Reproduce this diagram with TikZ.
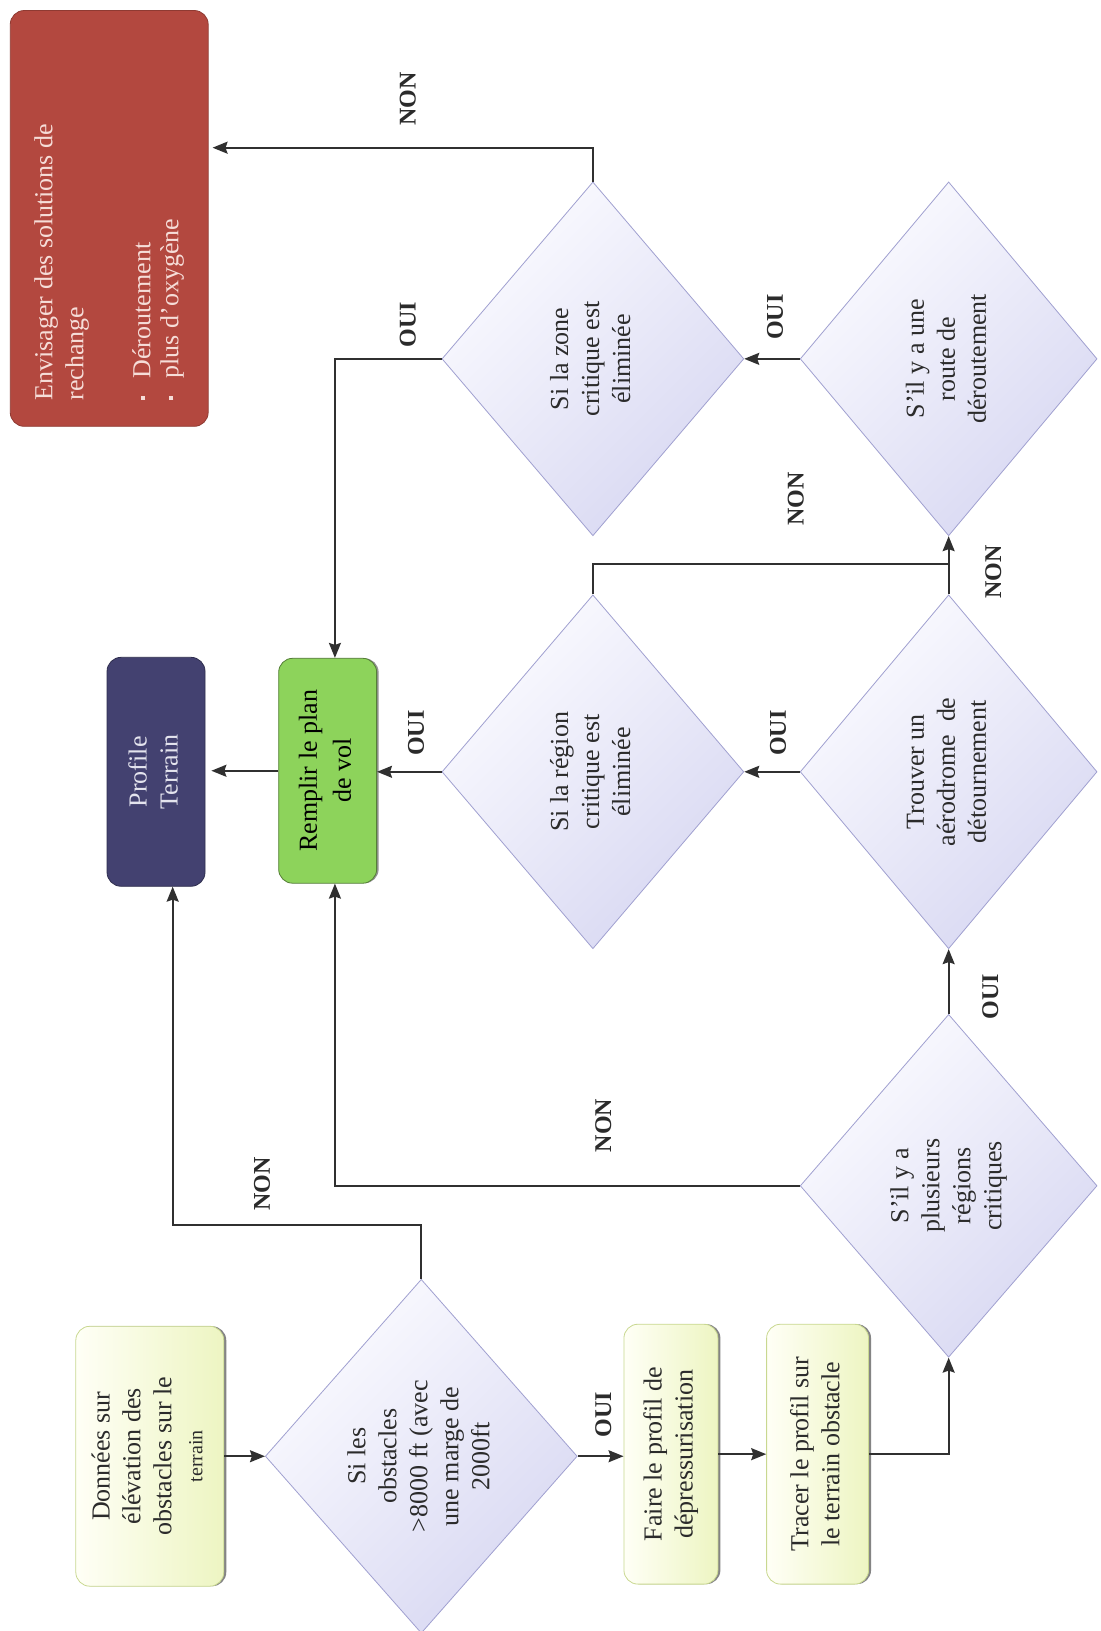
\documentclass[tikz,border=0pt]{standalone}
\usepackage{fontspec}
\setmainfont{Liberation Serif}
\usepackage{graphicx}
\usetikzlibrary{shapes.geometric,arrows.meta,shadows}

\definecolor{lineC}{HTML}{303030}
\definecolor{labC}{HTML}{2B2B2B}
\definecolor{diaEdge}{HTML}{A0A0D0}
\definecolor{diaLight}{HTML}{FBFBFF}
\definecolor{diaDark}{HTML}{D8D8F2}
\definecolor{altFill}{HTML}{B3483F}
\definecolor{altText}{HTML}{F6DDD8}
\definecolor{termFill}{HTML}{434170}
\definecolor{termText}{HTML}{E4E4EE}
\definecolor{planFill}{HTML}{8DD35B}
\definecolor{stepEdge}{HTML}{C9D890}
\definecolor{stepLight}{HTML}{FFFFF6}
\definecolor{stepDark}{HTML}{EDF5C2}

% multi-line text turned to read from bottom to top
\newcommand{\vlines}[1]{\rotatebox{90}{\begin{tabular}{@{}c@{}}#1\end{tabular}}}
\newcommand{\sqbul}{\makebox[22pt][l]{\rule[5pt]{4.5pt}{4.5pt}}}

\begin{document}
\begin{tikzpicture}[x=1.0406pt, y=1.0406pt,
  txt/.style={font=\fontsize{26}{31}\selectfont},
  decision/.style={diamond, txt, draw=diaEdge, line width=0.8pt,
    top color=diaLight, bottom color=diaDark, shading angle=45,
    inner sep=0pt, text=labC, minimum width=302pt, minimum height=354pt},
  box/.style={rectangle, rounded corners=14pt, txt, inner sep=0pt},
  stepbox/.style={box, draw=stepEdge, line width=0.8pt,
    left color=stepLight, right color=stepDark, text=labC,
    drop shadow={shadow xshift=2.5pt, shadow yshift=0pt, fill=black!60, opacity=0.8}},
  conn/.style={draw=lineC, line width=1.8pt},
  arr/.style={conn, -{Stealth[length=15pt,width=12pt,inset=2pt]}},
  lab/.style={font=\fontsize{24}{28}\selectfont\bfseries, rotate=90, text=labC, inner sep=0pt}
]
\fill[white] (0,0) rectangle (1058,1568);
\useasboundingbox (0,0) rectangle (1058,1568);

% outcome boxes
\node[box, fill=altFill, draw=altFill!80!black, line width=0.8pt,
      minimum width=198pt, minimum height=416pt] (alt) at (105,1358)
  {\rotatebox{90}{\parbox{364pt}{\color{altText}\raggedright
    Envisager des solutions de\\ rechange\\[36pt]
    \sqbul D\'eroutement\\[-3pt]
    \sqbul plus d'oxyg\`ene}}};
\node[box, fill=termFill, draw=termFill!70!black, line width=0.8pt, text=termText,
      minimum width=98pt, minimum height=229pt] (prof) at (150,826)
  {\vlines{Profile\\Terrain}};
\node[box, fill=planFill, draw=planFill!60!black, line width=0.8pt, text=black,
      drop shadow={shadow xshift=2pt, shadow yshift=0pt, fill=black!60, opacity=0.7},
      minimum width=98pt, minimum height=225pt] (rempl) at (315,827)
  {\vlines{Remplir le plan\\[3pt]de vol}};

% process boxes
\node[stepbox, minimum width=148pt, minimum height=260pt] (donn) at (144,168)
  {\vlines{Donn\'ees sur\\\'el\'evation des\\obstacles sur le\\{\fontsize{20}{24}\selectfont terrain}}};
\node[stepbox, minimum width=94pt, minimum height=260pt] (faire) at (645,170)
  {\vlines{Faire le profil de\\d\'epressurisation}};
\node[stepbox, minimum width=102pt, minimum height=260pt] (tracer) at (786,170)
  {\vlines{Tracer le profil sur\\le terrain obstacle}};

% decisions
\node[decision] (d1) at (570,1223) {\vlines{Si la zone\\critique est\\\'elimin\'ee}};
\node[decision, minimum width=297pt] (d2) at (912,1223) {\vlines{S'il y a une\\route de\\d\'eroutement}};
\node[decision] (d3) at (570,826) {\vlines{Si la r\'egion\\critique est\\\'elimin\'ee}};
\node[decision, minimum width=297pt] (d4) at (912,826) {\vlines{Trouver un\\a\'erodrome\ \ de\\d\'etournement}};
\node[decision, minimum width=297pt, minimum height=343pt] (d5) at (912,428) {\vlines{S'il y a\\plusieurs\\r\'egions\\critiques}};
\node[decision, minimum width=312pt] (d6) at (405,168) {\vlines{Si les\\obstacles\\>8000 ft (avec\\une marge de\\2000ft}};

% bend points
\coordinate (nonA) at (572,1426);
\coordinate (ouiA) at (322,1223);
\coordinate (nonB) at (912,1026);
\coordinate (nonC) at (166,390);

% connectors
\draw[arr, shorten >=4pt] (d1.north) |- (alt.east |- nonA);
\draw[arr] (d1.west) -- (ouiA) -- (ouiA |- rempl.north);
\draw[arr] (d2.west) -- (d1.east);
\draw[arr] (d3.west) -- (d3.west -| rempl.east);
\draw[arr, shorten >=6pt] (rempl.west) -- (rempl.west -| prof.east);
\draw[arr] (d4.west) -- (d3.east);
\draw[arr] (d4.north) -- (d2.south);
\draw[conn] (d3.north) |- (nonB);
\draw[arr] (d5.north) -- (d4.south);
\draw[arr] (d5.west) -| (ouiA |- rempl.south);
\draw[arr] (d6.north) |- (nonC) -- (nonC |- prof.south);
\draw[arr] (donn.east) -- (d6.west);
\draw[arr] (d6.east) -- (d6.east -| faire.west);
\draw[arr] (faire.east) -- (tracer.west);
\draw[arr] (tracer.east) -| (d5.south);

% branch labels
\node[lab] (l1) at (392,1473) {NON};
\node[lab] (l2) at (392,1256) {OUI};
\node[lab] (l3) at (745,1263) {OUI};
\node[lab] (l4) at (765,1088) {NON};
\node[lab] (l5) at (955,1018) {NON};
\node[lab] (l6) at (400,863) {OUI};
\node[lab] (l7) at (748,863) {OUI};
\node[lab] (l8) at (952,610) {OUI};
\node[lab] (l9) at (580,486) {NON};
\node[lab] (l10) at (252,430) {NON};
\node[lab] (l11) at (580,208) {OUI};
\end{tikzpicture}
\end{document}
